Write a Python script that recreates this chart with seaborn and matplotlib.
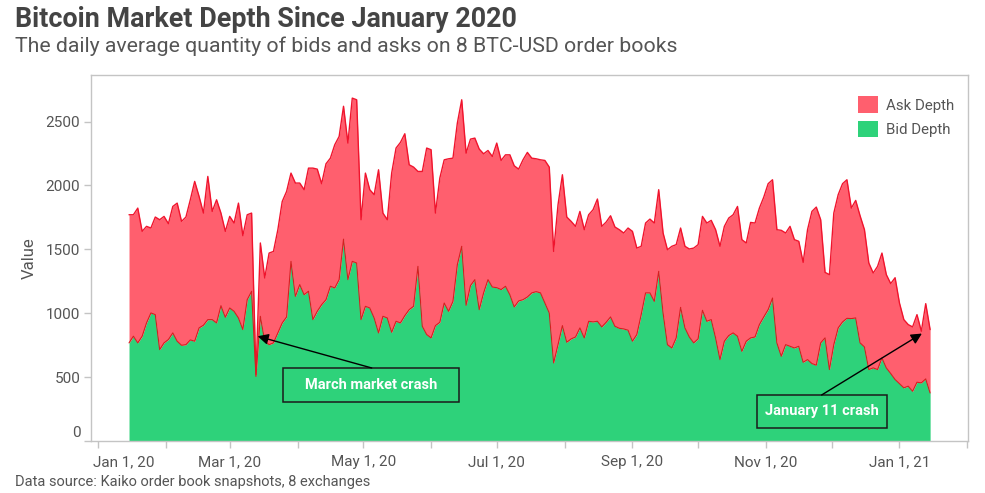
import matplotlib
matplotlib.use("Agg")
import matplotlib.pyplot as plt
import matplotlib.dates as mdates
from matplotlib.patches import Patch, Rectangle
from matplotlib.ticker import FuncFormatter
from matplotlib.transforms import ScaledTranslation
import pandas as pd
import seaborn as sns

# ── Data (one value every 2 days from Jan 15, 2020) ──
START_DATE = "2020-01-15"

bid_depth = [
    768, 820, 768, 820, 924, 1002, 989, 715, 768, 794,
    846, 781, 749, 754, 791, 781, 885, 906, 950, 950,
    924, 1059, 968, 1041, 1015, 963, 872, 1106, 1172, 505,
    976, 781, 754, 768, 846, 924, 971, 1406, 1132, 1224,
    1145, 1172, 950, 1015, 1067, 1106, 1211, 1198, 1263, 1580,
    1263, 1406, 1393, 950, 1054, 1041, 963, 846, 976, 963,
    851, 937, 924, 981, 1028, 1054, 1367, 898, 833, 807,
    903, 929, 1080, 1015, 1093, 1380, 1524, 1062, 1216, 1263,
    1028, 1159, 1263, 1205, 1200, 1185, 1211, 1145, 1049, 1096,
    1106, 1127, 1159, 1169, 1159, 1080, 1002, 611, 754, 903,
    773, 799, 814, 885, 807, 937, 932, 937, 893, 929,
    971, 898, 882, 877, 867, 781, 833, 989, 1159, 1159,
    1093, 1328, 1002, 754, 728, 807, 1046, 885, 814, 768,
    799, 1023, 937, 950, 807, 637, 781, 825, 846, 820,
    702, 781, 807, 814, 911, 971, 1028, 1119, 768, 663,
    754, 741, 728, 741, 616, 637, 606, 593, 768, 807,
    559, 754, 885, 932, 960, 958, 963, 768, 736, 559,
    572, 559, 650, 572, 528, 481, 449, 416, 429, 389,
    460, 455, 486, 376,
]

ask_depth = [
    1003, 951, 1055, 821, 756, 665, 764, 1017, 990, 907,
    990, 1081, 970, 999, 1097, 1251, 1030, 878, 1121, 847,
    964, 725, 673, 717, 691, 899, 735, 665, 612, 15,
    574, 495, 717, 716, 808, 951, 983, 691, 887, 795,
    822, 964, 1186, 1113, 947, 1064, 1003, 1121, 1121, 1040,
    1069, 1278, 1278, 782, 1043, 926, 965, 1277, 808, 769,
    1246, 1356, 1413, 1424, 1134, 1090, 743, 1212, 1460, 1473,
    881, 1129, 1121, 1194, 1121, 1108, 1147, 1191, 1147, 1108,
    1257, 1089, 1011, 1022, 1132, 1011, 1029, 1095, 1105, 1032,
    1095, 1132, 1055, 1040, 1042, 1116, 1142, 873, 1095, 1181,
    980, 920, 866, 912, 847, 834, 878, 957, 787, 785,
    792, 777, 772, 751, 800, 860, 677, 535, 547, 578,
    613, 639, 626, 743, 796, 730, 621, 639, 689, 742,
    738, 735, 769, 777, 847, 887, 899, 920, 925, 1016,
    874, 769, 904, 892, 912, 938, 986, 926, 886, 986,
    874, 939, 848, 822, 782, 1017, 1191, 1238, 964, 513,
    743, 1030, 1043, 1082, 1085, 865, 920, 995, 918, 834,
    743, 808, 821, 730, 704, 797, 631, 534, 482, 504,
    529, 404, 589, 496,
]

Y_TICKS = [0, 500, 1000, 1500, 2000, 2500]
SERIES_LABELS = ["Ask Depth", "Bid Depth"]

RED_FILL  = "#ff5f6e"
RED_LINE  = "#f0142d"
BID_LINE  = "#d42020"
GREEN     = "#2ed27a"
GREY_TEXT = "#555555"
FRAME     = "#c4c4c4"


def main():
    dates = pd.date_range(START_DATE, periods=len(bid_depth), freq="2D")
    df = pd.DataFrame({"date": dates, "bid": bid_depth, "ask": ask_depth})
    df["top"] = df["bid"] + df["ask"]   # stacked

    sns.set_theme(style="white")
    plt.rcParams["font.family"] = ["Roboto", "DejaVu Sans"]

    fig = plt.figure(figsize=(9.85, 4.93), dpi=100)
    ax = fig.add_axes([0.0921, 0.1055, 0.8906, 0.7424])

    # ── Stacked areas ─────────────────────────────────────────────────────────
    ax.fill_between(df["date"], 0, df["bid"], color=GREEN, lw=0)
    ax.fill_between(df["date"], df["bid"], df["top"], color=RED_FILL, lw=0)
    sns.lineplot(data=df, x="date", y="top", color=RED_LINE, lw=1.0, ax=ax)
    sns.lineplot(data=df, x="date", y="bid", color=BID_LINE, lw=0.8, ax=ax)

    # ── Axes ──────────────────────────────────────────────────────────────────
    ax.set_xlim(pd.Timestamp("2019-12-28 12:00"), pd.Timestamp("2021-02-01 07:00"))
    ax.set_ylim(0, 2865)
    ax.set_yticks(Y_TICKS)
    ax.xaxis.set_major_locator(mdates.MonthLocator(bymonth=[1, 3, 5, 7, 9, 11]))
    ax.xaxis.set_minor_locator(mdates.MonthLocator())
    ax.xaxis.set_major_formatter(FuncFormatter(
        lambda v, _: (lambda d: f"{d:%b} {d.day}, {d:%y}")(mdates.num2date(v))))

    for side in ax.spines.values():
        side.set_color(FRAME)
        side.set_linewidth(1)
    ax.tick_params(axis="both", which="both", length=5, width=1, color=FRAME,
                   labelcolor=GREY_TEXT, labelsize=11, direction="out")
    ax.tick_params(axis="x", which="both", bottom=True, pad=5)
    ax.tick_params(axis="y", left=True, pad=2.5)

    ax.set_xlabel("")
    ax.set_ylabel("Value", fontsize=12, color=GREY_TEXT)
    ax.yaxis.set_label_coords(-0.062, 0.5)

    # first labels sit inside the frame in the reference
    fig.canvas.draw()
    first_x = ax.get_xticklabels()[0]
    first_x.set_ha("left")
    first_x.set_transform(first_x.get_transform()
                          + ScaledTranslation(-0.056, 0, fig.dpi_scale_trans))
    first_y = ax.get_yticklabels()[0]
    first_y.set_transform(first_y.get_transform()
                          + ScaledTranslation(0, 0.09, fig.dpi_scale_trans))

    # ── Legend ────────────────────────────────────────────────────────────────
    handles = [Patch(facecolor=RED_FILL, edgecolor="none"),
               Patch(facecolor=GREEN, edgecolor="none")]
    leg = ax.legend(handles, SERIES_LABELS, loc="upper left",
                    bbox_to_anchor=(0.859, 0.979), frameon=False,
                    fontsize=10.8, handlelength=1.35, handleheight=1.35,
                    handletextpad=0.5, labelspacing=0.5)
    for t in leg.get_texts():
        t.set_color(GREY_TEXT)

    # ── Annotations ───────────────────────────────────────────────────────────
    notes = [
        ("March market crash", (0.2192, 0.1066, 0.2006, 0.0929),
         (0.3203, 0.1995), (pd.Timestamp("2020-03-13 18:00"), 820)),
        ("January 11 crash", (0.7591, 0.0355, 0.1482, 0.0902),
         (0.8332, 0.1257), (pd.Timestamp("2021-01-11 06:00"), 841)),
    ]
    for text, (bx, by, bw, bh), tail, tip in notes:
        ax.add_patch(Rectangle((bx, by), bw, bh, transform=ax.transAxes,
                               facecolor=GREEN, edgecolor="#1b1b1b", lw=1.1,
                               zorder=5))
        ax.text(bx + bw / 2, by + bh / 2, text, transform=ax.transAxes,
                ha="center", va="center", color="white", fontsize=10.5,
                fontweight="bold", zorder=6)
        ax.annotate("", xy=tip, xycoords="data", xytext=tail,
                    textcoords="axes fraction", zorder=6,
                    arrowprops=dict(arrowstyle="-|>", color="black", lw=1,
                                    mutation_scale=16, shrinkA=0, shrinkB=0))

    # ── Titles ────────────────────────────────────────────────────────────────
    fig.text(0.0152, 0.945, "Bitcoin Market Depth Since January 2020",
             fontsize=19.4, fontweight="bold", color="#444444", va="baseline")
    fig.text(0.0152, 0.895,
             "The daily average quantity of bids and asks on 8 BTC-USD order books",
             fontsize=15.3, color=GREY_TEXT, va="baseline")
    fig.text(0.0152, 0.0142,
             "Data source: Kaiko order book snapshots, 8 exchanges",
             fontsize=10.5, color=GREY_TEXT, va="baseline")

    fig.savefig("out.png", dpi=100)


if __name__ == "__main__":
    main()
